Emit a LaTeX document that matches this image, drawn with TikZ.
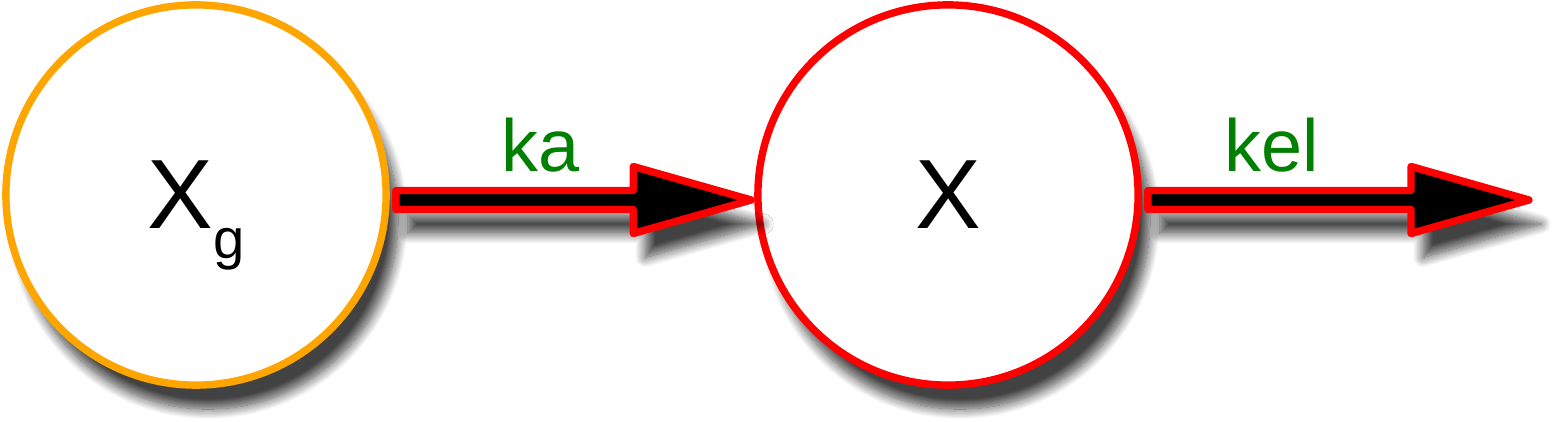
\documentclass[tikz,border=0pt]{standalone}
\usepackage{fontspec}
\setmainfont{Liberation Sans}
\usetikzlibrary{calc,shadows.blur}
\definecolor{srcorange}{RGB}{255,165,0}
\definecolor{ratecol}{RGB}{0,128,0}

\tikzset{
	dropshadow/.style={blur shadow={shadow xshift=.12cm, shadow yshift=-.24cm, shadow opacity=74, shadow blur radius=.1cm, shadow blur steps=14}},
	comp/.style={circle, draw, fill=white, line width=2.1pt, minimum size=3.8cm, inner sep=0pt, text depth=0pt, font=\fontsize{28}{28}\selectfont, dropshadow},
	flow/.style={draw=red, fill=black, line width=2.1pt, line join=round, dropshadow,
		to path={($(\tikztostart)+(6,-4.5)$) -- ($(\tikztotarget)+(-121,-4.5)$) \tikztonodes
			-- ($(\tikztotarget)+(-121,-28.5)$) -- ($(\tikztotarget)+(-3,5)$)
			-- ($(\tikztotarget)+(-121,38.5)$) -- ($(\tikztotarget)+(-121,14.5)$)
			-- ($(\tikztostart)+(6,14.5)$) -- cycle}},
	rate/.style={draw=none, anchor=base, yshift=.185cm, text=ratecol, font=\fontsize{21}{21}\selectfont}
}

\begin{document}
\begin{tikzpicture}[x=0.01cm, y=-0.01cm]
\useasboundingbox (0,0) rectangle (1552,422);
	\node[comp, draw=srcorange] (xg) at (196,195) {X\raisebox{-8.5pt}{\fontsize{16}{16}\selectfont g}};
	\node[comp, draw=red] (x) at (948,195) {X};
	\coordinate (sink) at (1532,195);
	\draw[flow] (xg.east) to node[rate, pos=.61] (ka) {ka} (x.west);
	\draw[flow] (x.east) to node[rate, pos=.47] (kel) {kel} (sink);
\end{tikzpicture}
\end{document}
